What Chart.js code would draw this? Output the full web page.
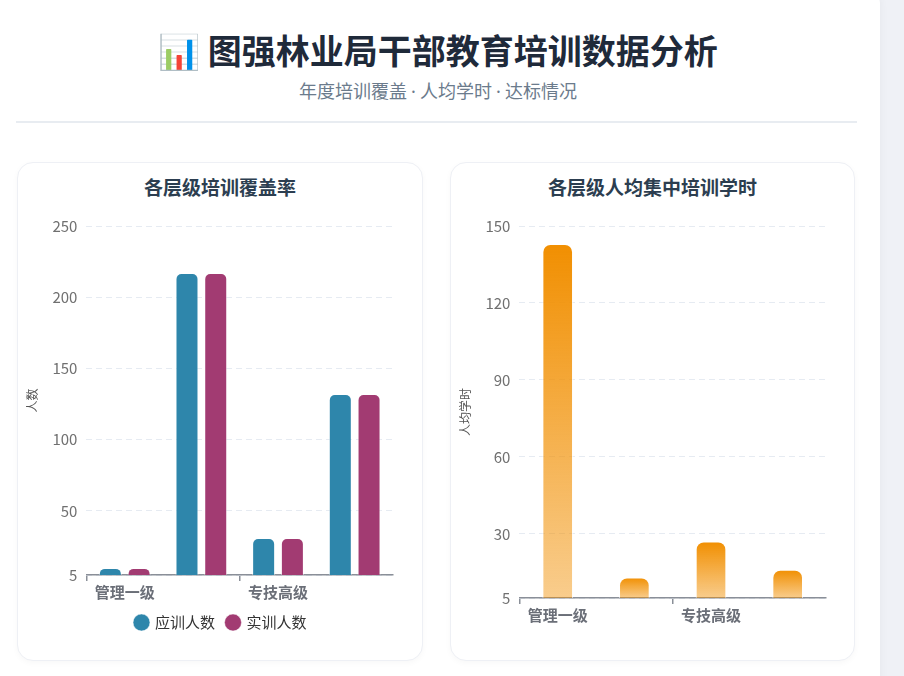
<!DOCTYPE html>
<html lang="zh-CN">
<head>
<meta charset="UTF-8">
<title>图强林业局干部教育培训数据分析</title>
<script src="https://cdn.jsdelivr.net/npm/chart.js@4.4.1/dist/chart.umd.min.js"></script>
<style>
    body{
        margin:0;
        width:904px;
        height:676px;
        overflow:hidden;
        background:#eff1f6;
        font-family:"Noto Sans CJK SC","Noto Sans",sans-serif;
        position:relative;
    }
    .page{
        position:absolute;
        left:-20px;
        top:-14px;
        width:900px;
        height:720px;
        background:#fff;
        border-radius:18px;
        box-shadow:0 2px 10px rgba(0,0,0,0.05);
    }
    .header{
        position:absolute;
        left:0;
        top:0;
        width:876px;
        text-align:center;
    }
    .header h1{
        margin:0;
        padding-top:28px;
        font-size:34px;
        line-height:44px;
        color:#1f2a3a;
        font-weight:700;
    }
    .header p{
        margin:6px 0 0 0;
        font-size:18px;
        line-height:24px;
        color:#6b7b8c;
    }
    .header .sep{
        display:inline-block;
        width:13px;
        text-align:center;
        font-family:"Noto Sans",sans-serif;
    }
    .divider{
        position:absolute;
        left:16px;
        top:121px;
        width:841px;
        height:2px;
        background:#e8ecf1;
    }
    .card{
        position:absolute;
        top:162px;
        height:497px;
        background:#fff;
        border:1px solid #eef0f5;
        border-radius:16px;
        box-shadow:0 2px 6px rgba(0,0,0,0.03);
    }
    .card h3{
        position:absolute;
        left:0;
        top:12px;
        width:100%;
        margin:0;
        text-align:center;
        font-size:19px;
        line-height:24px;
        color:#2c3e50;
        font-weight:700;
    }
    .chart-box{
        position:absolute;
        left:3px;
        top:45px;
        width:400px;
    }
</style>
</head>
<body>

<div class="page"></div>

<div class="header">
    <h1>📊 图强林业局干部教育培训数据分析</h1>
    <p>年度培训覆盖<span class="sep">·</span>人均学时<span class="sep">·</span>达标情况</p>
</div>
<div class="divider"></div>

<div class="card" style="left:17px;width:404px;">
    <h3>各层级培训覆盖率</h3>
    <div class="chart-box" style="height:432px;">
        <canvas id="coverChart"></canvas>
    </div>
</div>

<div class="card" style="left:450px;width:403px;">
    <h3>各层级人均集中培训学时</h3>
    <div class="chart-box" style="height:418px;">
        <canvas id="hoursChart"></canvas>
    </div>
</div>

<script>

// data
const levels=["管理一级","管理二级","专技高级","专技中级"];
const shouldTrain=[10,217,31,132];
const actualTrain=[10,217,31,132];
const avgHours=[143,13,27,16];

const coverTicks={min:5,max:250,step:50};
const hourTicks={min:5,max:150,step:30};

const FONT="'Noto Sans CJK SC','Noto Sans',sans-serif";

//------------------------
// shared axis styles
//------------------------

// only every other level gets a label and a tick mark, as on the original
function xAxis(){
    return {
        offset:true,
        grid:{
            display:true,
            offset:true,
            drawOnChartArea:false,
            drawTicks:true,
            tickLength:6,
            color:(c)=>(c.index%2===0 ? "#8a8f98" : "rgba(0,0,0,0)"),
            lineWidth:1.5
        },
        border:{display:true,color:"#8a8f98",width:1.5},
        ticks:{
            autoSkip:false,
            maxRotation:0,
            padding:2,
            color:"#6b6f78",
            font:{family:FONT,size:15,weight:"bold"},
            callback:function(value,index){
                return index%2===0 ? this.getLabelForValue(value) : "";
            }
        },
        // room on the right, like the overflow space of a long last label
        afterFit:(scale)=>{
            scale.paddingRight=28;
        }
    };
}

function yAxis(t,title){
    return {
        min:t.min,
        max:t.max,
        border:{display:false,dash:[6,4]},
        grid:{
            color:"#e6ebf2",
            lineWidth:1,
            drawTicks:false
        },
        ticks:{
            stepSize:t.step,
            padding:9,
            color:"#707070",
            font:{family:FONT,size:15}
        },
        title:{
            display:true,
            text:title,
            color:"#555",
            font:{family:FONT,size:12}
        }
    };
}

//------------------------
// Coverage chart
//------------------------

new Chart(document.getElementById("coverChart"),{
    type:"bar",
    data:{
        labels:levels,
        datasets:[
            {
                label:"应训人数",
                data:shouldTrain,
                backgroundColor:"#2e86ab",
                borderColor:"rgba(255,255,255,0.5)",
                borderWidth:1,
                borderRadius:6,
                borderSkipped:"bottom",
                categoryPercentage:0.75,
                barPercentage:0.8
            },
            {
                label:"实训人数",
                data:actualTrain,
                backgroundColor:"#a23b72",
                borderColor:"rgba(255,255,255,0.5)",
                borderWidth:1,
                borderRadius:6,
                borderSkipped:"bottom",
                categoryPercentage:0.75,
                barPercentage:0.8
            }
        ]
    },
    options:{
        responsive:true,
        maintainAspectRatio:false,
        animation:false,
        plugins:{
            legend:{
                position:"bottom",
                labels:{
                    usePointStyle:true,
                    pointStyle:"circle",
                    boxWidth:12,
                    boxHeight:12,
                    padding:12,
                    color:"#333",
                    font:{family:FONT,size:15}
                }
            }
        },
        scales:{
            x:xAxis(),
            y:yAxis(coverTicks,"人数")
        }
    }
});

//------------------------
// Hours chart (gradient bars)
//------------------------

function orangeGradient(ctx){
    const chart=ctx.chart;
    const y=chart.scales.y;
    if(!chart.chartArea || !y || ctx.raw===undefined){
        return "#f18f01";
    }
    const top=y.getPixelForValue(ctx.raw);
    const bottom=y.getPixelForValue(y.min);
    const g=chart.ctx.createLinearGradient(0,top,0,bottom);
    g.addColorStop(0,"rgba(241,143,1,1)");
    g.addColorStop(1,"rgba(241,143,1,0.45)");
    return g;
}

new Chart(document.getElementById("hoursChart"),{
    type:"bar",
    data:{
        labels:levels,
        datasets:[{
            label:"人均学时",
            data:avgHours,
            backgroundColor:orangeGradient,
            borderColor:"rgba(255,255,255,0.6)",
            borderWidth:1,
            borderRadius:8,
            borderSkipped:"bottom",
            categoryPercentage:0.8,
            barPercentage:0.5
        }]
    },
    options:{
        responsive:true,
        maintainAspectRatio:false,
        animation:false,
        plugins:{
            legend:{display:false}
        },
        scales:{
            x:xAxis(),
            y:yAxis(hourTicks,"人均学时")
        }
    }
});

</script>
</body>
</html>
